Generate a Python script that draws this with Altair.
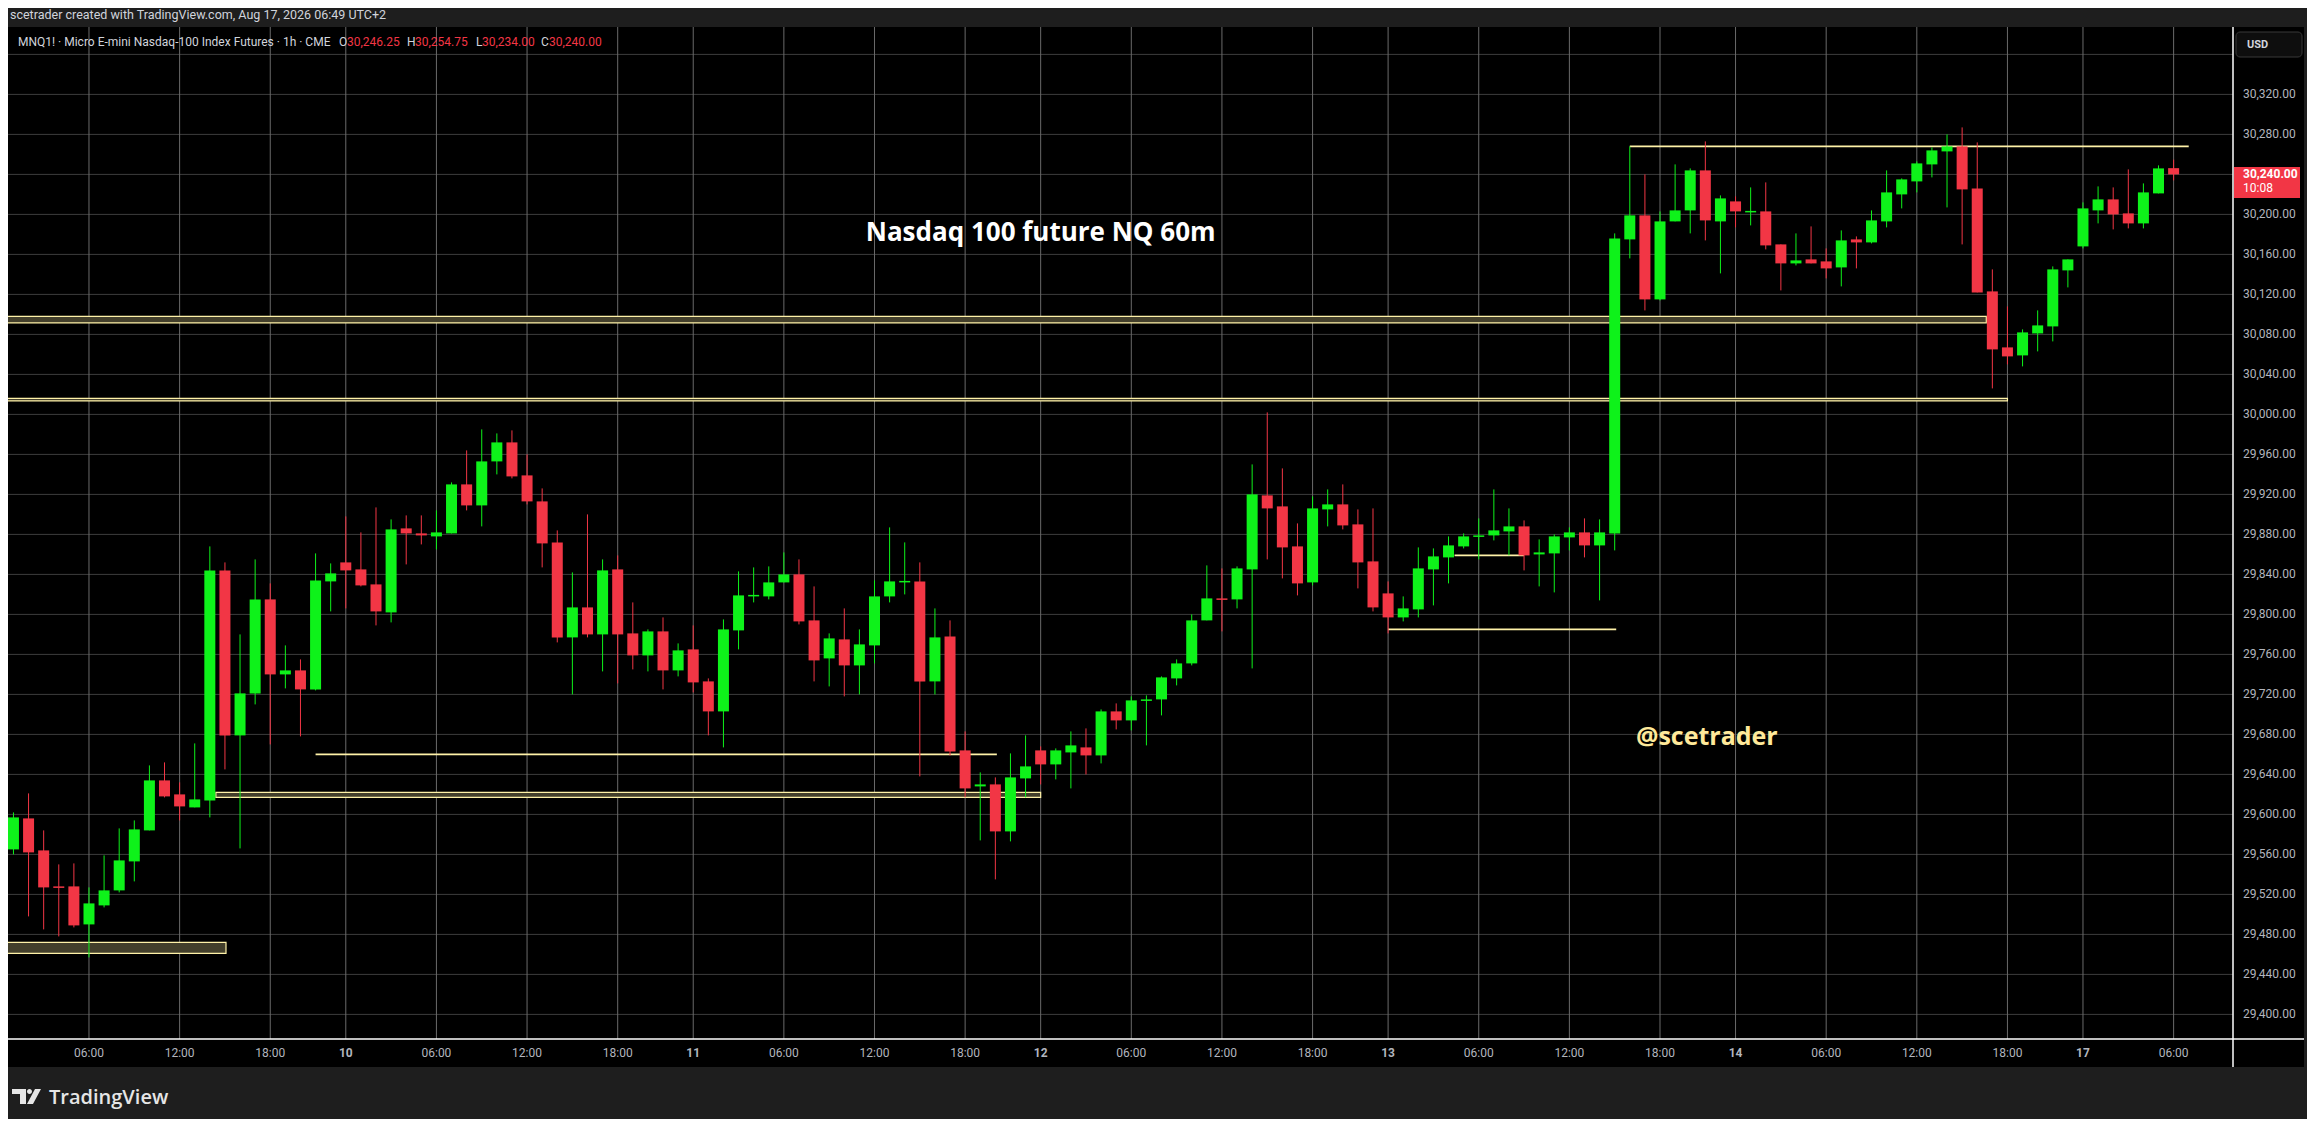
import altair as alt
import pandas as pd

# ---------------- data ----------------
opens = [29565, 29596, 29564, 29528, 29528, 29490, 29509, 29524, 29553, 29584,
         29634, 29620, 29607, 29614, 29844, 29679, 29721, 29815, 29740, 29744,
         29725, 29833, 29852, 29845, 29830, 29802, 29886, 29881, 29878, 29881,
         29930, 29909, 29953, 29972, 29939, 29913, 29872, 29777, 29807, 29780,
         29845, 29781, 29759, 29783, 29744, 29765, 29733, 29703, 29784, 29819,
         29818, 29832, 29840, 29794, 29756, 29775, 29749, 29769, 29818, 29833,
         29833, 29733, 29778, 29664, 29628, 29630, 29583, 29636, 29664, 29650,
         29662, 29667, 29659, 29703, 29694, 29714.5, 29715, 29736, 29751, 29794,
         29816, 29815, 29845, 29919, 29908, 29868, 29832, 29905, 29910, 29890,
         29853, 29821, 29797, 29805, 29845, 29857, 29868, 29878.5, 29879, 29883,
         29888, 29860, 29861, 29877, 29882, 29869, 29881, 30175, 30199, 30115,
         30193, 30204, 30244, 30193, 30213, 30203, 30203, 30170, 30151, 30155,
         30153, 30147, 30175, 30172, 30193, 30220, 30233, 30250, 30263, 30268,
         30226, 30123, 30067, 30059, 30081, 30088, 30144, 30168, 30204, 30215,
         30201, 30191, 30221, 30246.25]
highs = [29602, 29621, 29584, 29550, 29551, 29527, 29559, 29586, 29594, 29649,
         29652, 29632, 29671, 29868, 29852, 29780, 29855, 29831, 29769, 29755,
         29861, 29851, 29898, 29882, 29907, 29895, 29899, 29899, 29904, 29932,
         29964, 29985, 29981, 29984, 29960, 29926, 29884, 29842, 29900, 29855,
         29859, 29812, 29785, 29797, 29771, 29789, 29736, 29795, 29843, 29847,
         29848, 29862, 29855, 29828, 29781, 29806, 29785, 29834, 29887, 29872,
         29852, 29806, 29794, 29683, 29642, 29637, 29661, 29679, 29668, 29666,
         29683, 29686, 29705, 29711, 29718, 29719, 29738, 29755, 29800, 29849,
         29846, 29848, 29950, 30002, 29946, 29891, 29918, 29925, 29930, 29905,
         29906, 29833, 29818, 29867, 29866, 29878, 29881, 29896, 29925, 29906,
         29894, 29875, 29880, 29887, 29896, 29895, 30181, 30268, 30240, 30203,
         30250, 30246, 30273, 30219, 30218, 30227, 30232, 30170, 30181, 30188,
         30166, 30184, 30178, 30204, 30244, 30236, 30253, 30267, 30280, 30287,
         30272, 30145, 30108, 30085, 30104, 30148, 30155, 30212, 30228, 30227,
         30245, 30231, 30249, 30254.75]
lows = [29560, 29498, 29485, 29478, 29487, 29457, 29507, 29522, 29533, 29584,
        29617, 29594, 29607, 29597, 29645, 29566, 29710, 29670, 29726, 29678,
        29724, 29803, 29806, 29828, 29789, 29792, 29850, 29870, 29865, 29881,
        29904, 29888, 29940, 29936, 29910, 29847, 29772, 29720, 29777, 29743,
        29731, 29745, 29743, 29725, 29738, 29722, 29679, 29667, 29765, 29812,
        29815, 29832, 29790, 29733, 29728, 29718, 29720, 29751, 29812, 29820,
        29638, 29720, 29659, 29617, 29574, 29535, 29573, 29617, 29630, 29635,
        29626, 29640, 29651, 29685, 29684, 29669, 29699, 29729, 29749, 29794,
        29783, 29806, 29746, 29855, 29836, 29819, 29829, 29888, 29885, 29826,
        29803, 29781, 29793, 29797, 29809, 29831, 29866, 29855, 29874, 29859,
        29844, 29828, 29822, 29864, 29857, 29814, 29864, 30156, 30104, 30114,
        30193, 30181, 30174, 30141, 30187, 30189, 30165, 30124, 30149, 30151,
        30136, 30128, 30146, 30171, 30187, 30206, 30222, 30237, 30207, 30170,
        30122, 30026, 30050, 30048, 30063, 30073, 30127, 30166, 30191, 30185,
        30186, 30186, 30221, 30234.00]
closes = [29597, 29562, 29527, 29527, 29489, 29511, 29524, 29554, 29585, 29634,
          29618, 29608, 29615, 29844, 29679, 29721, 29815, 29740, 29744, 29725,
          29834, 29841, 29844, 29829, 29803, 29885, 29881, 29879, 29882, 29930,
          29909, 29953, 29972, 29938, 29913, 29871, 29777, 29807, 29780, 29844,
          29780, 29759, 29783, 29744, 29764, 29732, 29703, 29785, 29819, 29819.5,
          29832, 29840, 29793, 29754, 29776, 29749, 29770, 29818, 29833, 29833.5,
          29733, 29777, 29663, 29626, 29630, 29583, 29637, 29648, 29650, 29664,
          29669, 29659, 29703, 29694, 29714, 29715, 29737, 29751, 29794, 29816,
          29815, 29846, 29920, 29906, 29867, 29831, 29906, 29910, 29889, 29852,
          29807, 29797, 29806, 29846, 29858, 29869, 29878, 29879, 29884, 29888,
          29859, 29862, 29878, 29882, 29869, 29882, 30176, 30199, 30115, 30193,
          30204, 30244, 30194, 30216, 30203, 30203.5, 30169, 30151, 30154, 30151,
          30146, 30174, 30172, 30194, 30222, 30235, 30251, 30264, 30268, 30225,
          30122, 30065, 30058, 30082, 30089, 30145, 30155, 30206, 30215, 30200,
          30191, 30222, 30246, 30240.00]

# time axis: candle index of each labelled tick, and its label
tick_idx = [5, 11, 17, 22, 28, 34, 40, 45, 51, 57, 63, 68, 74,
            80, 86, 91, 97, 103, 109, 114, 120, 126, 132, 137, 143]
tick_labels = ["06:00", "12:00", "18:00", "10", "06:00", "12:00", "18:00", "11",
               "06:00", "12:00", "18:00", "12", "06:00", "12:00", "18:00", "13",
               "06:00", "12:00", "18:00", "14", "06:00", "12:00", "18:00", "17", "06:00"]

# price grid and labelled prices
grid_prices = [29400, 29440, 29480, 29520, 29560, 29600, 29640, 29680, 29720, 29760,
               29800, 29840, 29880, 29920, 29960, 30000, 30040, 30080, 30120, 30160,
               30200, 30240, 30280, 30320, 30360]
price_labels = [29400, 29440, 29480, 29520, 29560, 29600, 29640, 29680, 29720, 29760,
                29800, 29840, 29880, 29920, 29960, 30000, 30040, 30080, 30120, 30160,
                30200, 30280, 30320]

# drawn zones (start candle, end candle, low, high)
zone_start = [-1, -1, 13.4, -1]
zone_end = [130.6, 132.0, 68.0, 14.07]
zone_low = [30091.5, 30013.5, 29617, 29461]
zone_high = [30098, 30016, 29622, 29472]

# drawn horizontal lines (start candle, end candle, price)
line_start = [107.0, 95.4, 91.0, 20.0]
line_end = [144.0, 100.0, 106.1, 65.1]
line_price = [30268, 29859, 29785, 29660]

# text annotations
note_text = ["Nasdaq 100 future NQ 60m", "@scetrader"]
note_x = [68.0, 112.1]
note_price = [30181, 29677]

header_text = "scetrader created with TradingView.com, Aug 17, 2026 06:49 UTC+2"
symbol_text = "MNQ1! · Micro E-mini Nasdaq-100 Index Futures · 1h · CME"
ohlc_letters = ["O", "H", "L", "C"]
currency = "USD"
countdown = "10:08"
brand = "TradingView"

# ---------------- styling ----------------
GREEN = "#0ef21a"
RED = "#f23645"
LINE = "#fff2a8"
ZONE = "#433f2b"
GRID_H = "#3d3d3d"
GRID_V = "#6a6a6a"
TXT = "#b2b5be"
LIGHT = "#d1d4dc"
FONT = "Roboto"
W, H = 2225, 1012

xscale = alt.Scale(domain=[-0.03, 146.6], nice=False, zero=False)
yscale = alt.Scale(domain=[29375.4, 30387.4], nice=False, zero=False)


def X(f):
    return alt.X(f, type="quantitative", scale=xscale, axis=None)


def Y(f):
    return alt.Y(f, type="quantitative", scale=yscale, axis=None)


candles = pd.DataFrame({"i": list(range(len(opens))), "open": opens, "high": highs,
                        "low": lows, "close": closes})
ticks = pd.DataFrame({"i": tick_idx, "label": tick_labels})
grid = pd.DataFrame({"p": grid_prices})
plabels = pd.DataFrame({"p": price_labels})
zones = pd.DataFrame({"x0": zone_start, "x1": zone_end, "lo": zone_low, "hi": zone_high})
lines = pd.DataFrame({"x0": line_start, "x1": line_end, "p": line_price})
notes = pd.DataFrame({"t": note_text, "x": note_x, "p": note_price})
one = pd.DataFrame({"k": [0]})
last = candles.iloc[[-1]].reset_index(drop=True)

updown = alt.condition("datum.close >= datum.open", alt.value(GREEN), alt.value(RED))

grid_h = alt.Chart(grid).mark_rule(color=GRID_H, strokeWidth=1).encode(y=Y("p"))
grid_v = alt.Chart(ticks).mark_rule(color=GRID_V, strokeWidth=1).encode(x=X("i"))

zone_layer = alt.Chart(zones).mark_rect(fill=ZONE, stroke=LINE, strokeWidth=1.2,
                                        clip=True).encode(
    x=X("x0"), x2="x1", y=Y("lo"), y2="hi")
line_layer = alt.Chart(lines).mark_rule(color=LINE, strokeWidth=1.6, clip=True).encode(
    x=X("x0"), x2="x1", y=Y("p"))

wicks = alt.Chart(candles).mark_rule(strokeWidth=1, clip=True).encode(
    x=X("i"), y=Y("low"), y2="high", color=updown)
bodies = alt.Chart(candles).transform_calculate(
    top="max(datum.open, datum.close)", bot="min(datum.open, datum.close)"
).transform_calculate(
    bot2="datum.top - datum.bot < 1.5 ? datum.top - 1.5 : datum.bot"
).mark_bar(width=11, clip=True).encode(
    x=X("i"), y=Y("top"), y2="bot2", color=updown)

title_note = alt.Chart(notes).transform_filter("datum.t == '%s'" % note_text[0]).mark_text(
    font="Open Sans", fontSize=26, fontWeight="bold", color="#ffffff",
    align="center", baseline="middle").encode(x=X("x"), y=Y("p"), text="t:N")
sign_note = alt.Chart(notes).transform_filter("datum.t == '%s'" % note_text[1]).mark_text(
    font="Open Sans", fontSize=25, fontWeight="bold", color="#ffe99a",
    align="center", baseline="middle").encode(x=X("x"), y=Y("p"), text="t:N")

# axis panels (black) and white separators
panel_r = alt.Chart(one).mark_rect(color="#000000").encode(
    x=alt.value(W), x2=alt.value(W + 71), y=alt.value(0), y2=alt.value(H + 28))
panel_b = alt.Chart(one).mark_rect(color="#000000").encode(
    x=alt.value(0), x2=alt.value(W + 71), y=alt.value(H), y2=alt.value(H + 28))
sep_v = alt.Chart(one).mark_rule(color="#ffffff", strokeWidth=1.5).encode(
    x=alt.value(W), y=alt.value(0), y2=alt.value(H + 28))
sep_h = alt.Chart(one).mark_rule(color="#ffffff", strokeWidth=1.5).encode(
    x=alt.value(0), x2=alt.value(W + 71), y=alt.value(H))

# price axis labels
ylab = alt.Chart(plabels).transform_calculate(lab="format(datum.p, ',.2f')").mark_text(
    font=FONT, fontSize=12, color=TXT, align="left", baseline="middle").encode(
    x=alt.value(W + 10), y=Y("p"), text="lab:N")

xlab_time = alt.Chart(ticks).transform_filter("length(datum.label) > 2").mark_text(
    font=FONT, fontSize=12, color=TXT, baseline="middle").encode(
    x=X("i"), y=alt.value(H + 14), text="label:N")
xlab_day = alt.Chart(ticks).transform_filter("length(datum.label) <= 2").mark_text(
    font=FONT, fontSize=12, fontWeight="bold", color=TXT, baseline="middle").encode(
    x=X("i"), y=alt.value(H + 14), text="label:N")

# last price tag
price_box = alt.Chart(last).transform_calculate(
    ptop="datum.close + 7.5", pbot="datum.close - 23.5").mark_rect(color=RED).encode(
    x=alt.value(W + 1), x2=alt.value(W + 67), y=Y("ptop"), y2="pbot")
price_txt = alt.Chart(last).transform_calculate(lab="format(datum.close, ',.2f')").mark_text(
    font=FONT, fontSize=12, fontWeight="bold", color="#ffffff", align="left",
    baseline="middle").encode(x=alt.value(W + 10), y=Y("close"), text="lab:N")
count_txt = alt.Chart(last).mark_text(
    font=FONT, fontSize=12, color="#ffffff", align="left", baseline="middle",
    dy=14, text=countdown).encode(x=alt.value(W + 10), y=Y("close"))

usd_box = alt.Chart(one).mark_rect(fill="#0e0e0e", stroke="#383838", strokeWidth=1,
                                   cornerRadius=4).encode(
    x=alt.value(W + 3), x2=alt.value(W + 69), y=alt.value(5), y2=alt.value(30))
usd_txt = alt.Chart(one).mark_text(font=FONT, fontSize=11, fontWeight="bold", color=LIGHT,
                                   align="left", baseline="middle", text=currency).encode(
    x=alt.value(W + 14), y=alt.value(17.5))

header = alt.Chart(one).mark_text(font=FONT, fontSize=12.5, color=LIGHT, align="left",
                                  baseline="middle", text=header_text).encode(
    x=alt.value(2), y=alt.value(-12))
legend_sym = alt.Chart(one).mark_text(font=FONT, fontSize=12, color=LIGHT, align="left",
                                      baseline="middle", text=symbol_text).encode(
    x=alt.value(10), y=alt.value(15))

letter_x = [331, 399, 468, 533]
value_x = [339, 407, 474, 541]
ohlc_fields = ["open", "high", "low", "close"]
legend_layers = []
for k in range(4):
    legend_layers.append(alt.Chart(one).mark_text(
        font=FONT, fontSize=12, color=LIGHT, align="left", baseline="middle",
        text=ohlc_letters[k]).encode(x=alt.value(letter_x[k]), y=alt.value(15)))
    legend_layers.append(alt.Chart(last).transform_calculate(
        lab="format(datum['%s'], ',.2f')" % ohlc_fields[k]).mark_text(
        font=FONT, fontSize=12, color=RED, align="left", baseline="middle").encode(
        x=alt.value(value_x[k]), y=alt.value(15), text="lab:N"))

logo_path = ("M -1 -0.517 L -0.034 -0.517 L -0.034 0.517 L -0.448 0.517 L -0.448 -0.172 "
             "L -1 -0.172 Z M 0.035 -0.345 A 0.172 0.172 0 1 0 0.379 -0.345 "
             "A 0.172 0.172 0 1 0 0.035 -0.345 Z M 0.586 -0.517 L 1 -0.517 "
             "L 0.448 0.517 L 0.034 0.517 Z")
logo_icon = alt.Chart(one).mark_point(shape=logo_path, size=841, filled=True,
                                      color="#e6e6e6", opacity=1, strokeWidth=0).encode(
    x=alt.value(18.5), y=alt.value(1069.5))
logo_txt = alt.Chart(one).mark_text(font="Open Sans", fontSize=20, fontWeight=600,
                                    color="#e6e6e6", align="left", baseline="alphabetic",
                                    text=brand).encode(x=alt.value(41), y=alt.value(1077))

chart = alt.layer(
    grid_h, grid_v, zone_layer, line_layer, wicks, bodies, title_note, sign_note,
    panel_r, panel_b, sep_v, sep_h, ylab, xlab_time, xlab_day, price_box, price_txt,
    count_txt, usd_box, usd_txt, header, legend_sym, *legend_layers, logo_icon, logo_txt
).properties(
    width=W, height=H, background="#1e1e1e",
    padding={"left": 0, "top": 19, "right": 74, "bottom": 80},
    autosize=alt.AutoSizeParams(type="none"),
).configure_view(fill="#000000", strokeWidth=0)

chart.save("out.html", embed_options={"renderer": "svg", "actions": False})
